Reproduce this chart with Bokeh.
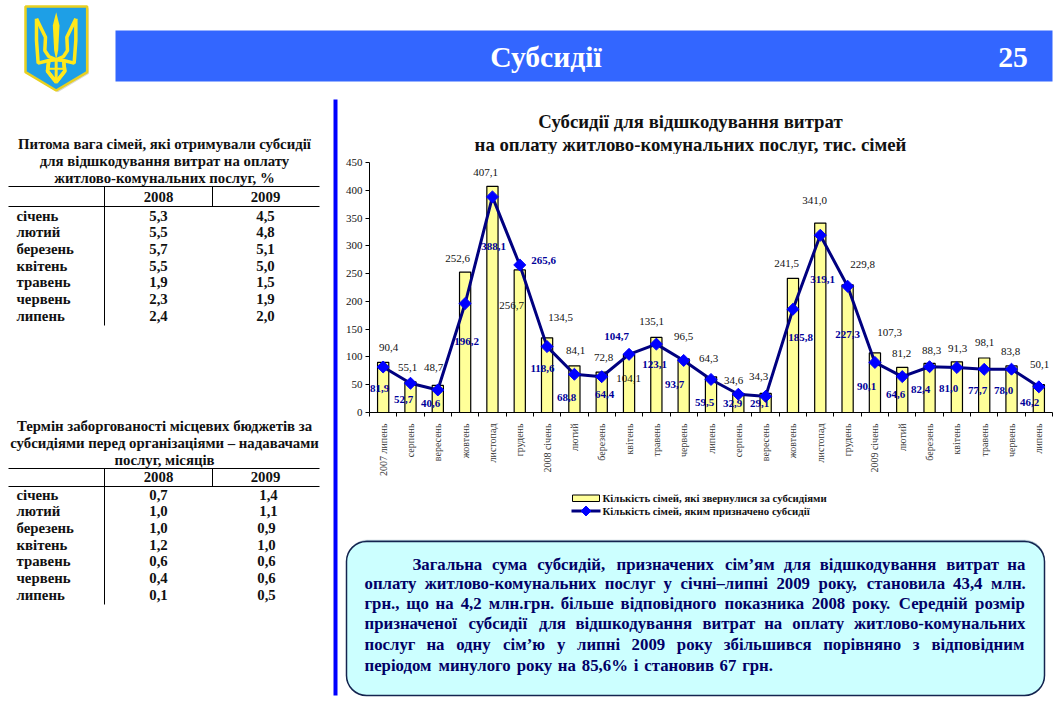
from bokeh.plotting import figure
from bokeh.embed import file_html
from bokeh.resources import INLINE
from bokeh.layouts import column, row
from bokeh.models import Range1d, LinearAxis, FixedTicker, ColumnDataSource, BoxAnnotation
from bokeh.core.properties import value
import math

# ---------- chart data ----------
months = ["2007 липень", "серпень", "вересень", "жовтень", "листопад", "грудень",
          "2008 січень", "лютий", "березень", "квітень", "травень", "червень", "липень",
          "серпень", "вересень", "жовтень", "листопад", "грудень",
          "2009 січень", "лютий", "березень", "квітень", "травень", "червень", "липень"]
applied = [90.4, 55.1, 48.7, 252.6, 407.1, 256.7, 134.5, 84.1, 72.8, 104.1, 135.1, 96.5, 64.3,
           34.6, 34.3, 241.5, 341.0, 229.8, 107.3, 81.2, 88.3, 91.3, 98.1, 83.8, 50.1]
granted = [81.9, 52.7, 40.6, 196.2, 388.1, 265.6, 118.6, 68.8, 64.4, 104.7, 123.1, 93.7, 59.5,
           32.9, 29.1, 185.8, 319.1, 227.3, 90.1, 64.6, 82.4, 81.0, 77.7, 78.0, 46.2]
y_ticks = [0, 50, 100, 150, 200, 250, 300, 350, 400, 450]

series_names = ["Кількість сімей, які звернулися за субсидіями",
                "Кількість сімей, яким призначено субсидії"]
chart_title = ["Субсидії для відшкодування витрат",
               "на оплату житлово-комунальних послуг, тис. сімей"]

# label placement (page pixels), not data
applied_label_x = [388, 407, 433, 457, 485, 511, 560, 575, 603, 628, 651, 683, 708, 733, 758, 786, 814, 862, 889, 901, 931, 957, 984, 1010, 1039]
applied_label_y = [347, 367, 367, 258, 172, 305, 317, 350, 357, 378, 321, 336, 358, 380, 376, 263, 200, 264, 332, 353, 350, 348, 342, 351, 364]
granted_label_x = [379, 403, 430, 466, 493, 543, 542, 566, 604, 616, 654, 674, 704, 732, 759, 800, 822, 847, 866, 895, 920, 948, 977, 1003, 1029]
granted_label_y = [388, 399, 403, 341, 246, 260, 368, 397, 394, 336, 364, 384, 402, 403, 403, 337, 279, 334, 386, 394, 389, 388, 390, 390, 402]

# ---------- tables ----------
table_months = ["січень", "лютий", "березень", "квітень", "травень", "червень", "липень"]
table_years = ["2008", "2009"]
share_title = ["Питома вага сімей, які отримували субсидії",
               "для відшкодування витрат на оплату",
               "житлово-комунальних послуг, %"]
share_2008 = ["5,3", "5,5", "5,7", "5,5", "1,9", "2,3", "2,4"]
share_2009 = ["4,5", "4,8", "5,1", "5,0", "1,5", "1,9", "2,0"]
debt_title = ["Термін заборгованості місцевих бюджетів за",
              "субсидіями перед організаціями – надавачами",
              "послуг, місяців"]
debt_2008 = ["0,7", "1,0", "1,0", "1,2", "0,6", "0,4", "0,1"]
debt_2009 = ["1,4", "1,1", "0,9", "1,0", "0,6", "0,6", "0,5"]

paragraph = ["Загальна сума субсидій, призначених сім’ям для відшкодування витрат на",
             "оплату житлово-комунальних послуг у січні–липні 2009 року, становила 43,4 млн.",
             "грн., що на 4,2 млн.грн. більше відповідного показника 2008 року. Середній розмір",
             "призначеної субсидії для відшкодування витрат на оплату житлово-комунальних",
             "послуг на одну сім’ю у липні 2009 року збільшився порівняно з відповідним",
             "періодом минулого року на 85,6% і становив 67 грн."]

SERIF = value("Liberation Serif")


def canvas(x0, x1, y0, y1):
    """A figure whose ranges are page pixels of the 1061x705 picture."""
    f = figure(width=x1 - x0, height=y1 - y0, x_range=Range1d(x0, x1), y_range=Range1d(y1, y0),
               output_backend="svg", toolbar_location=None, min_border=0, frame_align=False,
               x_axis_type=None, y_axis_type=None, outline_line_color=None,
               background_fill_color="white", border_fill_color="white")
    f.grid.visible = False
    return f


# ---------- header ----------
head = canvas(0, 1053, 0, 96)
head.quad(left=[115], right=[1052], top=[30], bottom=[81], fill_color="#3366FF", line_color=None)
head.text([545.5], [56.5], text=["Субсидії"], text_font=SERIF, text_font_style="bold", text_font_size="29.6px",
          text_color="white", text_align="center", text_baseline="middle")
head.text([1012.5], [56.5], text=["25"], text_font=SERIF, text_font_style="bold", text_font_size="29.6px",
          text_color="white", text_align="center", text_baseline="middle")


def zx(v):
    return [a / 3 + 15 for a in v]


def zy(v):
    return [a / 3 for a in v]


# coat of arms
sx = [30, 215, 215, 122, 30]
sy = [18, 18, 215, 270, 215]
head.patch(zx([a + 5 for a in sx]), zy([b + 5 for b in sy]), fill_color="#D8D8D0", line_color=None)
head.patch(zx(sx), zy(sy), fill_color="#1E9FE6", line_color="#E8D020", line_width=2.5)
left_arm = ([63, 63, 68, 100, 122], [55, 120, 188, 180, 178])
left_inner = ([63, 90, 88, 100, 122], [55, 110, 150, 168, 178])
bell = ([100, 96, 122, 148, 144], [180, 212, 245, 212, 180])
gold = "#FFE81A"
for px_, py_ in (left_arm, left_inner, bell):
    head.line(zx(px_), zy(py_), line_color=gold, line_width=3.5)
    head.line(zx([244 - a for a in px_]), zy(py_), line_color=gold, line_width=3.5)
head.patch(zx([122, 112, 116, 122, 128, 132]), zy([35, 75, 150, 178, 150, 75]), fill_color=gold, line_color=None)
head.line(zx([122, 122]), zy([178, 245]), line_color=gold, line_width=3)
head.line(zx([100, 144]), zy([205, 205]), line_color=gold, line_width=2)

# ---------- left column (tables) ----------
side = canvas(0, 338, 96, 705)
side.quad(left=[333], right=[337], top=[99], bottom=[695], fill_color="#0000FF", line_color=None)


def draw_table(title, col1, col2, title_ys, line_top, line_head, header_y, row_ys, col2_x):
    kw = dict(text_font=SERIF, text_font_style="bold", text_font_size="14.8px", text_color="#111111",
              text_baseline="middle")
    side.text([164] * 3, [y - 1 for y in title_ys], text=title, text_align="center", **kw)
    side.multi_line([[8, 319], [8, 319], [104, 104], [212, 212]],
                    [[line_top] * 2, [line_head] * 2, [line_top, row_ys[-1] + 9], [line_top, line_head]],
                    line_color="black", line_width=1)
    side.text([158, 265], [header_y - 1] * 2, text=table_years, text_align="center", **kw)
    shifted = [y - 1 for y in row_ys]
    side.text([16] * 7, shifted, text=table_months, text_align="left", **kw)
    side.text([158] * 7, shifted, text=col1, text_align="center", **kw)
    side.text(col2_x, shifted, text=col2, text_align="center", **kw)


draw_table(share_title, share_2008, share_2009, [144, 161, 178], 186, 206, 197,
           [216, 232, 249, 266, 282, 299, 316], [265] * 7)
draw_table(debt_title, debt_2008, debt_2009, [426, 443, 460], 468, 486, 477,
           [495, 511, 528, 545, 561, 578, 595], [268, 268, 266, 266, 266, 266, 266])

# ---------- chart title ----------
ctitle = canvas(338, 1053, 96, 154)
ctitle.text([690, 690], [121, 144], text=chart_title, text_font=SERIF, text_font_style="bold",
            text_font_size="18.8px", text_color="#111111", text_align="center", text_baseline="middle")

# ---------- chart ----------
FL, FR, FT, FB = 369, 1052, 162, 412
CHART_TOP, CHART_BOTTOM = 154, 487
YMAX = y_ticks[-1]
n = len(months)
xs = [i + 0.5 for i in range(n)]
px_x = [FL + (FR - FL) * x / n for x in xs]


def px_y(v):
    return FB - (FB - FT) * v / YMAX


chart = figure(width=715, height=CHART_BOTTOM - CHART_TOP, x_range=Range1d(0, n), y_range=Range1d(0, YMAX),
               output_backend="svg", toolbar_location=None, x_axis_type=None, y_axis_type=None,
               min_border_left=FL - 338, min_border_right=1053 - FR, frame_align=False,
               min_border_top=FT - CHART_TOP, min_border_bottom=CHART_BOTTOM - FB,
               outline_line_color=None, background_fill_color="white", border_fill_color="white")
chart.grid.visible = False

src = ColumnDataSource(dict(
    x=xs, applied=applied, granted=granted,
    applied_txt=[f"{v:.1f}".replace(".", ",") for v in applied],
    granted_txt=[f"{v:.1f}".replace(".", ",") for v in granted],
    a_dx=[a - b for a, b in zip(applied_label_x, px_x)],
    a_dy=[a - px_y(b) for a, b in zip(applied_label_y, applied)],
    g_dx=[a - b for a, b in zip(granted_label_x, px_x)],
    g_dy=[a - px_y(b) for a, b in zip(granted_label_y, granted)],
))
chart.vbar(x="x", top="applied", width=0.41, bottom=0, source=src,
           fill_color="#FFFF99", line_color="black", line_width=1.2)
chart.text(x="x", y="applied", text="applied_txt", x_offset="a_dx", y_offset="a_dy", source=src,
           text_font=SERIF, text_font_size="11px", text_color="#111111",
           text_align="center", text_baseline="middle")
chart.line(x="x", y="granted", source=src, line_color="#000080", line_width=3)
chart.scatter(x="x", y="granted", source=src, marker="square", size=8.5, angle=math.pi / 4,
              fill_color="#0000FF", line_color="#0000FF")
chart.text(x="x", y="granted", text="granted_txt", x_offset="g_dx", y_offset="g_dy", source=src,
           text_font=SERIF, text_font_size="11px", text_font_style="bold", text_color="#000099",
           text_align="center", text_baseline="middle")

yaxis = LinearAxis(ticker=FixedTicker(ticks=y_ticks), major_tick_in=0, major_tick_out=4,
                   minor_tick_line_color=None, major_label_text_font="Liberation Serif",
                   major_label_text_font_size="11px", major_label_text_color="#111111",
                   major_label_standoff=3, axis_line_color="black", major_tick_line_color="black")
chart.add_layout(yaxis, "left")
xaxis = LinearAxis(ticker=FixedTicker(ticks=xs, minor_ticks=list(range(n + 1))),
                   major_label_overrides={x: m for x, m in zip(xs, months)},
                   major_tick_in=0, major_tick_out=0, minor_tick_in=0, minor_tick_out=4,
                   minor_tick_line_color="black", major_label_orientation=math.pi / 2,
                   major_label_text_font="Liberation Serif", major_label_text_font_size="10px",
                   major_label_text_color="#333333", major_label_standoff=7, axis_line_color="black")
chart.add_layout(xaxis, "below")

# ---------- legend ----------
leg = canvas(338, 1053, CHART_BOTTOM, 527)
leg.quad(left=[572], right=[599], top=[494.5], bottom=[501], fill_color="#FFFF99", line_color="black")
leg.line([571, 600], [510.5, 510.5], line_color="#000080", line_width=3)
leg.scatter([585.5], [510.5], marker="square", size=7, angle=math.pi / 4, fill_color="#0000FF", line_color="#0000FF")
leg.text([602, 602], [497.5, 510.5], text=series_names, text_font=SERIF, text_font_style="bold",
         text_font_size="10.8px", text_color="#111111", text_align="left", text_baseline="middle")

# ---------- text box ----------
box = canvas(338, 1053, 527, 705)
box.add_layout(BoxAnnotation(left=347, right=1044, top=539.5, bottom=695, fill_color="#9DB5C5", fill_alpha=1,
                             line_color="#9DB5C5", border_radius=20, level="underlay"))
box.add_layout(BoxAnnotation(left=346, right=1044, top=541, bottom=695, fill_color="#CCFFFF", fill_alpha=1,
                             line_color="#14244F", line_width=1.5, line_alpha=1, border_radius=20, level="underlay"))

CW = dict(zip("абвгдежзийклмнопрстуфхцчшщьюяієї", [.5, .556, .54, .43, .52, .444, .76, .43, .58, .58, .55, .54, .68, .58,
          .5, .58, .556, .444, .45, .5, .72, .5, .58, .56, .83, .83, .5, .78, .52, .278, .45, .278]))
CW.update({"З": .62, "С": .72, ",": .25, ".": .25, "-": .333, "–": .5, "’": .333, "%": 1.0})
FS = 16.8
word_x, word_y, words = [], [], []
line_ys = [564, 583, 603, 623, 644, 665]
for i, (ln_txt, y) in enumerate(zip(paragraph, line_ys)):
    ws = ln_txt.split(" ")
    w = [sum(CW.get(c, .5) for c in t) * FS for t in ws]
    start = 412 if i == 0 else 364
    gap = (1025 - start - sum(w)) / (len(ws) - 1) if i < 5 else 0.25 * FS + 1.6
    x = start
    for t, tw in zip(ws, w):
        word_x.append(x); word_y.append(y); words.append(t)
        x += tw + gap
box.text(word_x, word_y, text=words, text_font=SERIF, text_font_style="bold", text_font_size=f"{FS}px",
         text_color="#000066", text_align="left", text_baseline="middle")

page = column(head, row(side, column(ctitle, chart, leg, box, spacing=0), spacing=0), spacing=0)
open("out.html", "w").write(file_html(page, INLINE))
